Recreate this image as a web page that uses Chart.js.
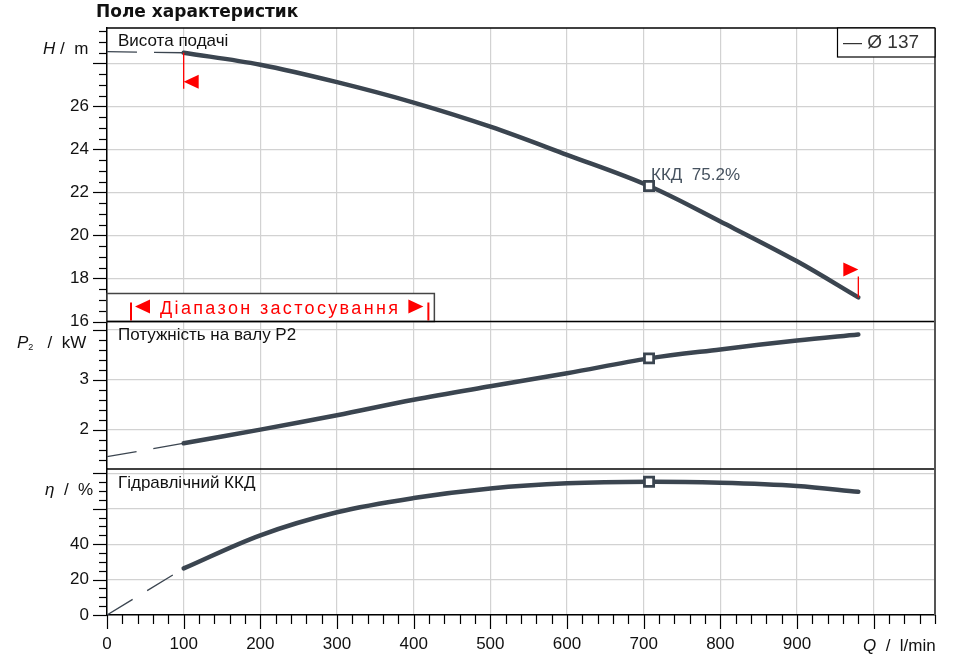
<!DOCTYPE html>
<html>
<head>
<meta charset="utf-8">
<script src="https://cdn.jsdelivr.net/npm/chart.js@4.4.1/dist/chart.umd.min.js"></script>
<style>
  html, body { margin: 0; padding: 0; background: #fff; }
  #wrap { position: relative; width: 970px; height: 663px; }
</style>
</head>
<body>
<div id="wrap"><canvas id="pumpChart" width="970" height="663"></canvas></div>
<script>
// curve data, Q in l/min
const flowQ   = [100, 200, 300, 400, 500, 600, 707, 800, 900, 980];
const headH   = [28.5, 27.94, 27.13, 26.18, 25.06, 23.75, 22.3, 20.65, 18.8, 17.12];
const powerP2 = [1.726, 2.0, 2.29, 2.6, 2.87, 3.13, 3.43, 3.61, 3.79, 3.91];
const effEta  = [26.3, 45, 58, 66, 71.4, 74.3, 75.2, 74.6, 72.8, 69.5];

// thin dashed part below the application range
const extQ     = [0, 100];
const extH     = [28.55, 28.5];
const extP2    = [1.457, 1.726];
const extEta   = [0, 26.3];

// duty point
const dutyQ = 707;
const dutyH = 22.3;
const dutyP2 = 3.43;
const dutyEta = 75.2;

// axes
const qRange   = [0, 1080];
const hRange   = [16, 29.65];
const pRange   = [1.21, 4.17];
const etaRange = [0, 82.4];

const qMajor   = [0, 100, 200, 300, 400, 500, 600, 700, 800, 900, 1000];
const qLabels  = [0, 100, 200, 300, 400, 500, 600, 700, 800, 900];
const hMajor   = [16, 18, 20, 22, 24, 26, 28];
const hLabels  = [16, 18, 20, 22, 24, 26];
const pMajor   = [2, 3, 4];
const pLabels  = [2, 3];
const etaMajor = [0, 20, 40, 60, 80];
const etaLabels = [0, 20, 40];

const FONT = '"Liberation Sans", Arial, sans-serif';
const CURVE = '#3b4550';
const GRID = '#d2d2d2';

function steps(lo, hi, step) {
  const out = [];
  for (let k = Math.ceil(lo / step - 1e-9); k * step <= hi + 1e-9; k++) out.push(+(k * step).toFixed(3));
  return out;
}

const pts = (xs, ys) => xs.map((x, i) => ({ x, y: ys[i] }));

function mainCurve(data, axis) {
  return { data, yAxisID: axis, order: 2, borderColor: CURVE, borderWidth: 4.5, borderCapStyle: 'round',
           pointRadius: 0, tension: 0.35, fill: false };
}
function dashCurve(data, axis) {
  return { data, yAxisID: axis, order: 3, borderColor: CURVE, borderWidth: 1.3, borderDash: [30, 17],
           pointRadius: 0, fill: false };
}
function dutyPoint(q, v, axis) {
  return { data: [{ x: q, y: v }], yAxisID: axis, order: 0, showLine: false, pointStyle: 'rect',
           pointRadius: 6.5, pointBorderWidth: 2.8, pointBorderColor: CURVE, pointBackgroundColor: '#fff' };
}

function yAxis(range, weight, step, majors, labels) {
  return {
    type: 'linear', position: 'left', stack: 'panels', stackWeight: weight,
    min: range[0], max: range[1],
    afterBuildTicks: s => { s.ticks = steps(s.min, s.max, step).map(v => ({ value: v })); },
    afterFit: s => { s.width = 107; },
    border: { display: true, color: '#000', width: 1.5 },
    grid: {
      color: c => (c.tick && majors.includes(c.tick.value)) ? GRID : 'rgba(0,0,0,0)',
      lineWidth: 1.2, drawTicks: true, tickLength: 14, tickColor: 'rgba(0,0,0,0)'
    },
    ticks: {
      autoSkip: false, padding: 4, color: '#111', font: { family: FONT, size: 17 },
      callback: v => labels.includes(v) ? String(v) : ''
    }
  };
}

function line(ctx, x1, y1, x2, y2) {
  ctx.beginPath(); ctx.moveTo(x1, y1); ctx.lineTo(x2, y2); ctx.stroke();
}
function tri(ctx, p) {
  ctx.beginPath(); ctx.moveTo(p[0], p[1]); ctx.lineTo(p[2], p[3]); ctx.lineTo(p[4], p[5]);
  ctx.closePath(); ctx.fill();
}
// text pieces written one after the other: [text, font, dy]
function runs(ctx, x, y, parts) {
  let cx = x;
  parts.forEach(([txt, font, dy]) => {
    ctx.font = font;
    ctx.fillText(txt, cx, y + (dy || 0));
    cx += ctx.measureText(txt).width;
  });
}

const overlay = {
  id: 'overlay',
  afterDraw(chart) {
    const { ctx, chartArea: a } = chart;
    const sx = chart.scales.x, sH = chart.scales.yH, sP = chart.scales.yP, sE = chart.scales.yEta;
    ctx.save();

    // tick marks, long on majors
    ctx.strokeStyle = '#000';
    ctx.lineWidth = 1.2;
    [[sH, hMajor], [sP, pMajor], [sE, etaMajor]].forEach(([s, majors]) => {
      s.ticks.forEach(t => {
        const y = Math.round(s.getPixelForValue(t.value)) + 0.5;
        line(ctx, a.left - (majors.includes(t.value) ? 14 : 8), y, a.left, y);
      });
    });
    sx.ticks.forEach(t => {
      const x = Math.round(sx.getPixelForValue(t.value)) + 0.5;
      line(ctx, x, a.bottom, x, a.bottom + (qMajor.includes(t.value) ? 14 : 9));
    });

    // application range box
    const bx1 = a.left, bx2 = sx.getPixelForValue(427), by1 = sH.bottom - 28, by2 = sH.bottom;
    ctx.fillStyle = '#fff';
    ctx.fillRect(bx1, by1, bx2 - bx1, by2 - by1);
    ctx.strokeStyle = '#444';
    ctx.lineWidth = 1.5;
    ctx.strokeRect(bx1, by1, bx2 - bx1, by2 - by1);
    ctx.strokeStyle = '#ff0000';
    ctx.fillStyle = '#ff0000';
    ctx.lineWidth = 2;
    line(ctx, bx1 + 24, by1 + 9, bx1 + 24, by2 - 1);
    line(ctx, bx2 - 6, by1 + 9, bx2 - 6, by2 - 1);
    tri(ctx, [bx1 + 28, by1 + 13, bx1 + 43, by1 + 6, bx1 + 43, by1 + 20]);
    tri(ctx, [bx2 - 11, by1 + 13, bx2 - 26, by1 + 6, bx2 - 26, by1 + 20]);
    ctx.font = '18px ' + FONT;
    ctx.textAlign = 'left';
    ctx.textBaseline = 'alphabetic';
    const rangeText = 'Діапазон застосування';
    const wanted = 238;
    const natural = ctx.measureText(rangeText).width;
    ctx.letterSpacing = Math.max(0, (wanted - natural) / (rangeText.length - 1)) + 'px';
    ctx.fillText(rangeText, bx1 + 53, by1 + 20);
    ctx.letterSpacing = '0px';

    // panel frame
    ctx.strokeStyle = '#000';
    ctx.lineWidth = 1.5;
    [a.top, sP.top, sE.top].forEach(y => line(ctx, a.left, y, a.right, y));
    ctx.strokeStyle = '#555';
    ctx.lineWidth = 2;
    line(ctx, a.right, a.top, a.right, a.bottom);

    // red end-of-range flags on the head curve
    const fx1 = sx.getPixelForValue(flowQ[0]), fy1 = sH.getPixelForValue(headH[0]);
    const fx2 = sx.getPixelForValue(flowQ[flowQ.length - 1]), fy2 = sH.getPixelForValue(headH[headH.length - 1]);
    ctx.strokeStyle = '#ff0000';
    ctx.fillStyle = '#ff0000';
    ctx.lineWidth = 1.3;
    line(ctx, fx1, fy1, fx1, fy1 + 36);
    tri(ctx, [fx1, fy1 + 29, fx1 + 15, fy1 + 22, fx1 + 15, fy1 + 36]);
    line(ctx, fx2, fy2, fx2, fy2 - 21);
    tri(ctx, [fx2, fy2 - 28, fx2 - 15, fy2 - 35, fx2 - 15, fy2 - 21]);

    // duty point label
    ctx.fillStyle = '#46525f';
    ctx.font = '17px ' + FONT;
    ctx.fillText('ККД  ' + dutyEta.toFixed(1) + '%', sx.getPixelForValue(dutyQ) + 2, sH.getPixelForValue(dutyH) - 6);

    // legend box
    ctx.fillStyle = '#fff';
    ctx.fillRect(837, a.top, a.right - 837, 29);
    ctx.strokeStyle = '#000';
    ctx.lineWidth = 1.2;
    ctx.strokeRect(837.5, a.top, a.right - 837.5, 29);
    ctx.fillStyle = '#333';
    ctx.font = '19px ' + FONT;
    ctx.textBaseline = 'middle';
    ctx.fillText('— Ø 137', 843, a.top + 14.5);
    ctx.textBaseline = 'alphabetic';

    // panel names
    ctx.fillStyle = '#111';
    ctx.font = '17px ' + FONT;
    ctx.fillText('Висота подачі', a.left + 11, a.top + 18);
    ctx.fillText('Потужність на валу P2', a.left + 11, sP.top + 18.5);
    ctx.fillText('Гідравлічний ККД', a.left + 11, sE.top + 19);

    // axis titles
    const it = 'italic 17px ' + FONT, rg = '17px ' + FONT;
    runs(ctx, 43, 54, [['H', it], [' /  m', rg]]);
    runs(ctx, 17, 348, [['P', it], ['2', '9px ' + FONT, 2], ['   /  kW', rg]]);
    runs(ctx, 45, 495, [['η', it], ['  /  %', rg]]);
    runs(ctx, 863, 651, [['Q', it], ['  /  l/min', rg]]);

    // title
    ctx.fillStyle = '#111';
    ctx.font = 'bold 17px "DejaVu Sans", sans-serif';
    ctx.fillText('Поле характеристик', 96, 17);
    ctx.restore();
  }
};

new Chart(document.getElementById('pumpChart'), {
  type: 'line',
  data: {
    datasets: [
      dashCurve(pts(extQ, extH), 'yH'),
      mainCurve(pts(flowQ, headH), 'yH'),
      dutyPoint(dutyQ, dutyH, 'yH'),
      dashCurve(pts(extQ, extP2), 'yP'),
      mainCurve(pts(flowQ, powerP2), 'yP'),
      dutyPoint(dutyQ, dutyP2, 'yP'),
      dashCurve(pts(extQ, extEta), 'yEta'),
      mainCurve(pts(flowQ, effEta), 'yEta'),
      dutyPoint(dutyQ, dutyEta, 'yEta')
    ]
  },
  options: {
    responsive: false,
    animation: false,
    layout: { padding: { top: 28, right: 35, left: 0, bottom: 0 } },
    plugins: { legend: { display: false }, tooltip: { enabled: false } },
    scales: {
      x: {
        type: 'linear', min: qRange[0], max: qRange[1],
        afterBuildTicks: s => { s.ticks = steps(s.min, s.max, 20).map(v => ({ value: v })); },
        afterFit: s => { s.height = 48; },
        border: { display: true, color: '#000', width: 1.5 },
        grid: {
          color: c => (c.tick && qMajor.includes(c.tick.value)) ? GRID : 'rgba(0,0,0,0)',
          lineWidth: 1.2, tickLength: 14, tickColor: 'rgba(0,0,0,0)'
        },
        ticks: {
          autoSkip: false, maxRotation: 0, padding: 5, color: '#111', font: { family: FONT, size: 17 },
          callback: v => qLabels.includes(v) ? String(v) : ''
        }
      },
      yEta: yAxis(etaRange, 146, 5, etaMajor, etaLabels),
      yP: yAxis(pRange, 147.5, 0.2, pMajor, pLabels),
      yH: yAxis(hRange, 293.5, 0.5, hMajor, hLabels)
    }
  },
  plugins: [overlay]
});
</script>
</body>
</html>
